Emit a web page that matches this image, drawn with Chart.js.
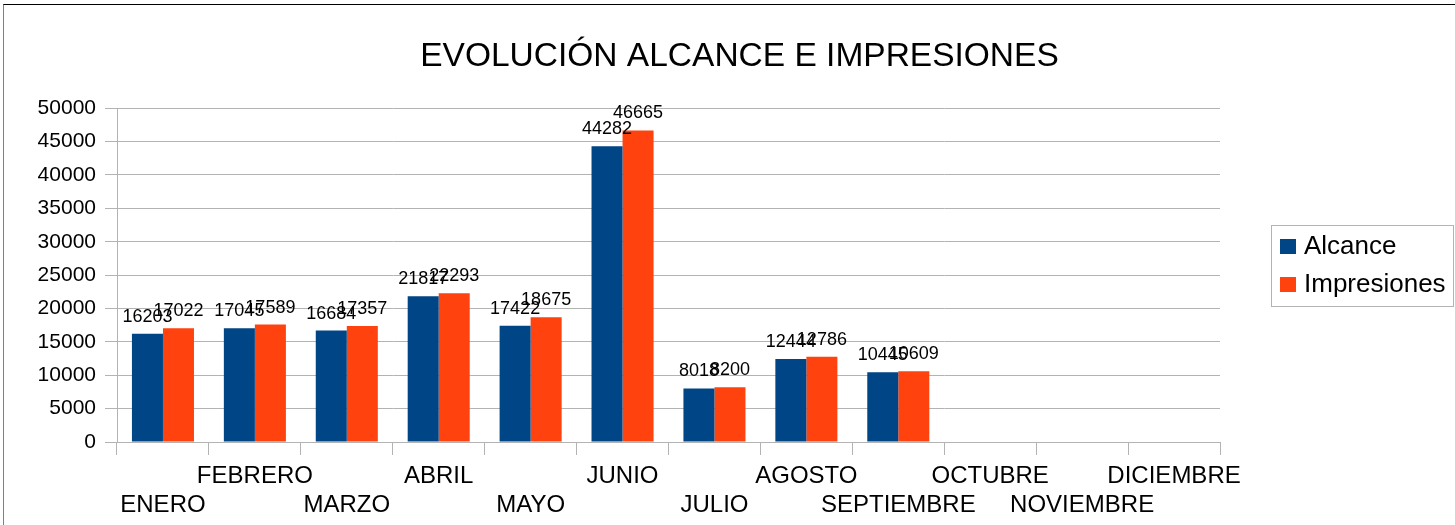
<!DOCTYPE html>
<html>
<head>
<meta charset="utf-8">
<script src="https://cdn.jsdelivr.net/npm/chart.js@4"></script>
<style>
  html, body { margin: 0; padding: 0; background: #fff; }
  #wrap { position: relative; width: 1455px; height: 525px; }
  #frame { position: absolute; left: 3px; top: 4px; right: 0; bottom: 0;
           border-top: 1px solid #000; border-left: 1px solid #808080; pointer-events: none; }
  canvas { position: absolute; left: 0; top: 0; }
</style>
</head>
<body>
<div id="wrap">
  <canvas id="c" width="1455" height="525"></canvas>
  <div id="frame"></div>
</div>
<script>
const title = 'EVOLUCIÓN ALCANCE E IMPRESIONES';
const categories = ['ENERO','FEBRERO','MARZO','ABRIL','MAYO','JUNIO','JULIO','AGOSTO','SEPTIEMBRE','OCTUBRE','NOVIEMBRE','DICIEMBRE'];
const alcance = [16203, 17045, 16684, 21817, 17422, 44282, 8018, 12444, 10445, null, null, null];
const impresiones = [17022, 17589, 17357, 22293, 18675, 46665, 8200, 12786, 10609, null, null, null];
const seriesNames = ['Alcance', 'Impresiones'];
const yTicks = { min: 0, max: 50000, step: 5000 };

const FONT = "'Liberation Sans', Arial, sans-serif";
const GRID = '#b3b3b3';

// staggered two-row category labels
const xLabels = categories.map((c, i) => i % 2 === 0 ? ['', c] : [c, '']);

const dataLabels = {
  id: 'dataLabels',
  afterDatasetsDraw(chart) {
    const ctx = chart.ctx;
    ctx.save();
    ctx.font = '18px ' + FONT;
    ctx.fillStyle = '#000';
    ctx.textAlign = 'center';
    ctx.textBaseline = 'alphabetic';
    chart.data.datasets.forEach((ds, di) => {
      const meta = chart.getDatasetMeta(di);
      meta.data.forEach((el, i) => {
        const v = ds.data[i];
        if (v === null || v === undefined) return;
        ctx.fillText(String(v), el.x, el.y - 12);
      });
    });
    ctx.restore();
  }
};

const boxLegend = {
  id: 'boxLegend',
  afterDraw(chart) {
    const ctx = chart.ctx;
    ctx.save();
    ctx.strokeStyle = GRID;
    ctx.lineWidth = 1;
    ctx.strokeRect(1271.5, 225.5, 182, 81);
    ctx.font = '26px ' + FONT;
    ctx.textBaseline = 'middle';
    ctx.textAlign = 'left';
    chart.data.datasets.forEach((ds, i) => {
      const cy = 247 + i * 38;
      ctx.fillStyle = ds.backgroundColor;
      ctx.fillRect(1280, cy - 8, 16, 15);
      ctx.fillStyle = '#000';
      ctx.fillText(ds.label, 1304, cy);
    });
    ctx.restore();
  }
};

new Chart(document.getElementById('c'), {
  type: 'bar',
  data: {
    labels: xLabels,
    datasets: [
      { label: seriesNames[0], data: alcance, backgroundColor: '#004586' },
      { label: seriesNames[1], data: impresiones, backgroundColor: '#ff420e' }
    ]
  },
  options: {
    responsive: false,
    animation: false,
    maintainAspectRatio: false,
    layout: { padding: { left: 24, right: 0, top: 0, bottom: 0 } },
    datasets: { bar: { categoryPercentage: 0.675, barPercentage: 1.0 } },
    plugins: {
      legend: { display: false },
      tooltip: { enabled: false },
      title: {
        display: true,
        text: title,
        color: '#000',
        font: { family: FONT, size: 33.5, weight: 'normal' },
        padding: { top: 37, bottom: 31 }
      }
    },
    scales: {
      x: {
        offset: true,
        grid: {
          offset: true,
          drawOnChartArea: true,
          color: (c) => (c.index === categories.length ? GRID : 'rgba(0,0,0,0)'),
          tickColor: GRID,
          tickLength: 13
        },
        border: { display: true, color: GRID },
        ticks: {
          autoSkip: false, maxRotation: 0, minRotation: 0,
          color: '#000', padding: 7,
          font: { family: FONT, size: 24, lineHeight: 1.2 }
        },
        afterFit(s) { s.height = 83; }
      },
      y: {
        min: yTicks.min, max: yTicks.max,
        grid: { color: GRID, tickColor: GRID, tickLength: 12 },
        border: { display: true, color: GRID },
        ticks: {
          stepSize: yTicks.step, color: '#000', padding: 9,
          font: { family: FONT, size: 21 },
          callback: (v) => String(v)
        },
        afterFit(s) { s.width = 93; }
      },
      y2: {
        position: 'right',
        display: true,
        grid: { display: false, drawTicks: false },
        border: { display: false },
        ticks: { display: false },
        afterFit(s) { s.width = 235; }
      }
    }
  },
  plugins: [dataLabels, boxLegend]
});
</script>
</body>
</html>
